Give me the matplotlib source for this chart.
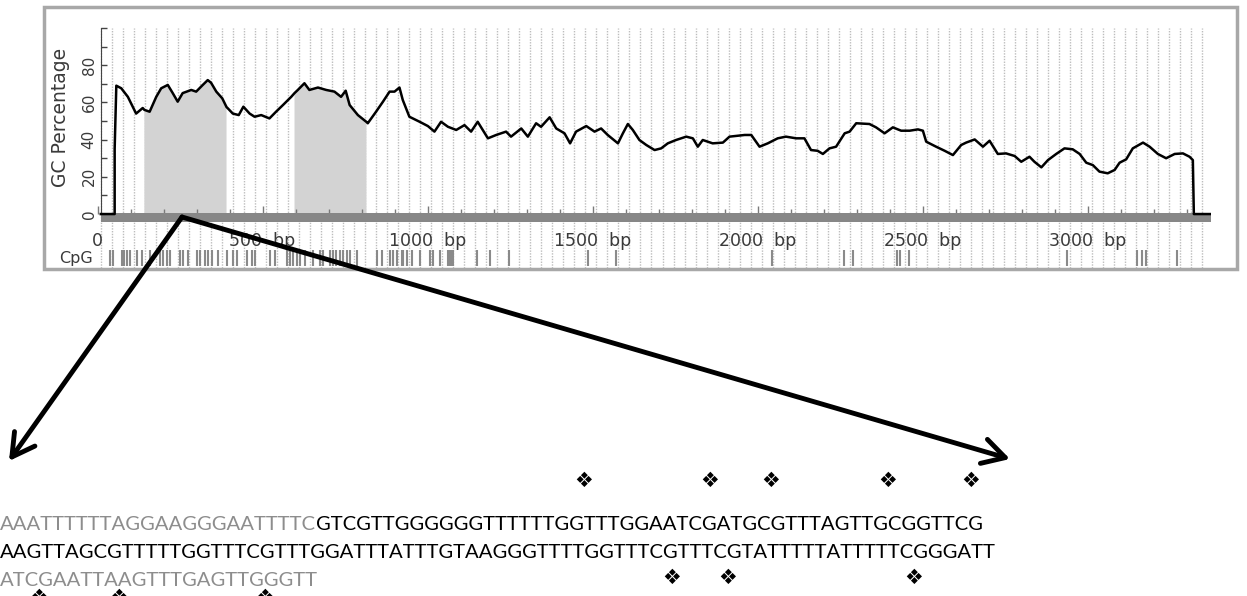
import matplotlib
matplotlib.use('Agg')

import numpy as np
import matplotlib.pyplot as plt
from matplotlib.patches import Rectangle
from matplotlib.font_manager import FontProperties

# GC profile (position in bp, GC %)
gc_pos = [10, 52, 52, 57, 72, 92, 117, 137, 142, 158, 178, 193, 213, 228, 243, 258, 284, 299,
          319, 334, 344, 360, 378, 391, 395, 410, 428, 442, 461, 476, 496, 521, 541, 562, 587,
          597, 607, 627, 642, 668, 693, 718, 738, 752, 764, 789, 815, 819, 844, 865, 885, 900,
          915, 925, 945, 976, 1001, 1021, 1041, 1062, 1087, 1112, 1132, 1152, 1183, 1208, 1238,
          1253, 1284, 1304, 1329, 1344, 1370, 1390, 1415, 1432, 1450, 1481, 1506, 1526, 1546,
          1577, 1592, 1607, 1622, 1642, 1663, 1688, 1708, 1728, 1753, 1784, 1804, 1819, 1834,
          1864, 1895, 1915, 1961, 1981, 2006, 2031, 2061, 2086, 2117, 2142, 2162, 2182, 2198,
          2218, 2238, 2264, 2279, 2299, 2339, 2359, 2385, 2410, 2435, 2461, 2486, 2501, 2511,
          2541, 2567, 2592, 2617, 2632, 2658, 2683, 2703, 2728, 2753, 2779, 2799, 2824, 2839,
          2860, 2880, 2905, 2930, 2955, 2976, 2996, 3016, 3036, 3061, 3082, 3097, 3117, 3137,
          3168, 3188, 3213, 3238, 3264, 3289, 3309, 3319, 3322, 3374]
gc_pct = [0, 0, 35, 69, 67.6, 63, 54, 57, 56, 55, 63, 67.6, 69.4, 65, 60.4, 65, 66.7, 65.8,
          69.4, 72, 70.6, 65.8, 62.2, 57.5, 56.8, 54, 53.2, 57.7, 54, 52.3, 53.2, 51.4, 55, 58.6, 63,
          65, 66.7, 70.3, 66.7, 68, 66.7, 65.8, 63, 66.3, 58.6, 53.2, 49.5, 48.8, 55, 60.4, 65.8, 65.8,
          68, 61.3, 52.3, 49.6, 47.3, 44.3, 49.6, 46.9, 45.2, 47.8, 44.3, 49.6, 40.7, 42.5, 44.3,
          41.6, 46, 41.6, 48.8, 46.9, 52, 46, 43.4, 38, 44.3, 47.3, 44.3, 46, 42.5,
          38, 43.4, 48.4, 45.2, 39.8, 37.1, 34.4, 35.3, 38, 39.8, 41.6, 40.7, 36.2, 39.8,
          38, 38.4, 41.6, 42.5, 42.5, 36.2, 38, 40.7, 41.6, 40.7, 40.7, 34.4, 34, 32.3,
          35.3, 36.2, 43.4, 44.3, 48.8, 48.4, 46.6, 43.4, 46.6, 44.8, 44.8, 45.5, 44.8, 38.9,
          36.2, 34, 31.7, 37.1, 38.4, 40.1, 36.2, 39.4, 32.3, 32.6, 31.2, 28.1, 30.8, 28.1,
          25.1, 29, 32.3, 35.3, 34.8, 32.3, 27.6, 26.3, 22.8, 21.9, 23.7, 27.6, 29.4, 35.3,
          38.4, 36.2, 32.3, 30, 32.3, 32.6, 30.8, 29, 0, 0]

# CpG islands (bp)
islands = [(142, 391), (597, 815)]

# individual CpG sites on the lower track (bp)
cpg_sites = [38, 48, 73, 80, 89, 98, 119, 134, 159, 189, 199, 210, 220, 250, 260, 275, 301, 311,
             326, 336, 346, 366, 392, 412, 422, 452, 467, 477, 523, 538, 573, 583, 593, 603, 614,
             629, 654, 674, 684, 704, 714, 724, 735, 745, 755, 765, 786, 846, 861, 886, 896, 906,
             922, 927, 937, 952, 977, 1008, 1018, 1038, 1063, 1068, 1073, 1078, 1149, 1189, 1248,
             1487, 1571, 2043, 2262, 2290, 2422, 2432, 2460, 2939, 3151, 3164, 3177, 3270]

seq_len = 3374
x_ticks = [0, 500, 1000, 1500, 2000, 2500, 3000]
x_labels = ['0', '500  bp', '1000  bp', '1500  bp', '2000  bp', '2500  bp', '3000  bp']
y_ticks = [0, 20, 40, 60, 80, 100]
y_labels = ['0', '20', '40', '60', '80', '']

# zoomed sequence
seq_line1_grey = 'AAATTTTTTAGGAAGGGAATTTTC'
seq_line1_black = 'GTCGTTGGGGGGTTTTTTGGTTTGGAATCGATGCGTTTAGTTGCGGTTCG'
seq_line2 = 'AAGTTAGCGTTTTTGGTTTCGTTTGGATTTATTTGTAAGGGTTTTGGTTTCGTTTCGTATTTTTATTTTTCGGGATT'
seq_line3 = 'ATCGAATTAAGTTTGAGTTGGGTT'
# methylation marks, as character offsets in each line
marks_line1 = [44, 53.5, 58, 67, 73.2]
marks_line2 = [51.5, 56, 71]
marks_line3 = [3, 9, 20]

W, H = 1247, 596
fig = plt.figure(figsize=(W / 100, H / 100), dpi=100)
fig.patch.set_facecolor('white')

# chart axes: bp 0 at px 97.5, bp 3374 at px 1211; y 100 at px 28, y -29 at px 268
ax = fig.add_axes([97.5 / W, (H - 268) / H, (1211 - 97.5) / W, 240 / H])
ax.set_xlim(0, seq_len)
ax.set_ylim(-29, 100)
ax.patch.set_alpha(0)

txt_col = '#3a3a3a'

# light dotted stripes
stripes = np.arange(12, seq_len, 100 / 3)
ax.vlines(stripes, -29, 100, colors='#bdbdbd', linestyles=(0, (1, 1)), lw=1, zorder=0)

bp = np.array(gc_pos, dtype=float)
gc = np.array(gc_pct, dtype=float)
mask = np.zeros(len(bp), dtype=bool)
for a, b in islands:
    mask |= (bp >= a) & (bp <= b)
ax.fill_between(bp, gc, 0, where=mask, color='#d3d3d3', lw=0, zorder=1)

# base bar
ax.fill_between([10, seq_len], -4.3, 0.6, color='#878787', lw=0, zorder=2)
ax.plot(bp, gc, color='black', lw=1.8, zorder=4)

# CpG track
ax.vlines(cpg_sites, -28, -19.5, colors='#8a8a8a', lw=1.5, zorder=2)

for s in ['top', 'right']:
    ax.spines[s].set_visible(False)
ax.spines['left'].set_position(('data', 10))
ax.spines['left'].set_bounds(0, 100)
ax.spines['left'].set_color('#444444')
ax.spines['bottom'].set_position(('data', 0))
ax.spines['bottom'].set_linewidth(0)

ax.set_xticks(x_ticks)
ax.set_xticklabels(x_labels)
ax.set_xticks(np.arange(100, seq_len, 100), minor=True)
ax.tick_params(axis='x', which='major', direction='in', length=6, width=1, color='#7a7a7a',
               pad=13, labelsize=12.5, labelcolor=txt_col)
ax.tick_params(axis='x', which='minor', direction='in', length=3.5, width=1, color='#7a7a7a')
ax.get_xticklabels()[0].set_x(25)

ax.set_yticks(y_ticks)
ax.set_yticklabels(y_labels)
ax.set_yticks(np.arange(10, 100, 20), minor=True)
ax.tick_params(axis='y', which='both', direction='in', length=4.5, width=1, color='#444444',
               pad=3, labelsize=11, labelcolor=txt_col, labelrotation=90)
for lab in ax.get_yticklabels():
    lab.set_va('center')

ax.set_ylabel('GC Percentage', fontsize=13.5, color=txt_col)
ax.yaxis.set_label_coords((70 - 97.5) / (1211 - 97.5), (268 - 117) / 240)

# overlay in pixel coordinates for frame, arrows and sequence
ov = fig.add_axes([0, 0, 1, 1])
ov.set_xlim(0, W)
ov.set_ylim(H, 0)
ov.axis('off')
ov.patch.set_alpha(0)
ov.set_zorder(3)

ov.add_patch(Rectangle((44, 7), 1193, 262, fill=False, ec='#a8a8a8', lw=2.5))
ov.text(93, 258, 'CpG', ha='right', va='center', fontsize=11.5, color=txt_col)

for tip in [(9, 461), (1010, 459)]:
    ov.annotate('', xy=tip, xytext=(182, 217),
                arrowprops=dict(arrowstyle='->,head_length=0.8,head_width=0.45',
                                mutation_scale=20, lw=3.5, color='black',
                                shrinkA=0, shrinkB=0))

# sequence text, sized so line 1 spans ~985 px
seq_font = 'Lato'
renderer = fig.canvas.get_renderer()
line1 = seq_line1_grey + seq_line1_black
w10 = renderer.get_text_width_height_descent(line1, FontProperties(family=seq_font, size=10), ismath=False)[0]
fs = 10 * 985 / w10
fp = FontProperties(family=seq_font, size=fs)


def char_x(s, k):
    # x of a (possibly fractional) character offset in a line
    i = int(k)
    w0 = renderer.get_text_width_height_descent(s[:i], fp, ismath=False)[0] if i else 0
    if k == i or i >= len(s):
        return w0
    wc = renderer.get_text_width_height_descent(s[i], fp, ismath=False)[0]
    return w0 + (k - i) * wc


t1 = ov.text(0, 530, seq_line1_grey, color='#8d8d8d', fontproperties=fp, va='baseline')
ov.annotate(seq_line1_black, xy=(1, 0), xycoords=t1, color='black', fontproperties=fp,
            ha='left', va='bottom')
ov.text(0, 558, seq_line2, color='black', fontproperties=fp, va='baseline')
ov.text(0, 586, seq_line3, color='#8d8d8d', fontproperties=fp, va='baseline')

for line, ks, y in [(line1, marks_line1, 481), (seq_line2, marks_line2, 578), (seq_line3, marks_line3, 598)]:
    for k in ks:
        ov.text(char_x(line, k), y, '\u2756', ha='center', va='center', fontsize=15,
                family=['DejaVu Sans'], color='black')

fig.savefig('out.png', dpi=100)
plt.close(fig)
